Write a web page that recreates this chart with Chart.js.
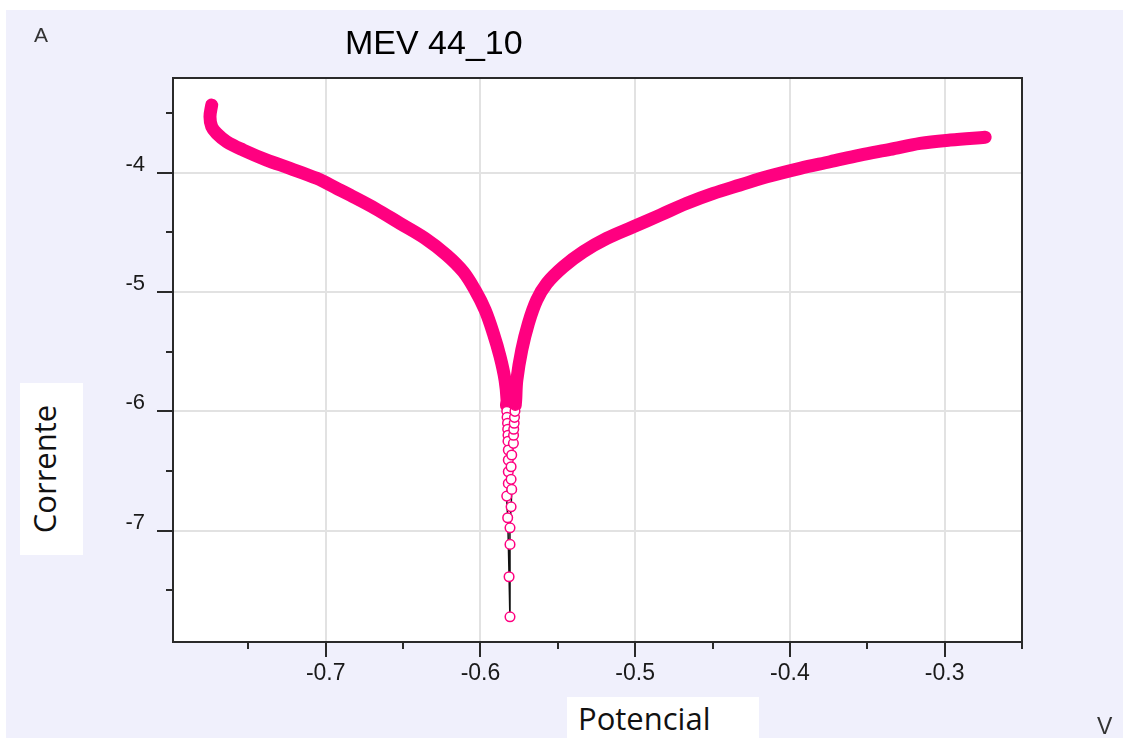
<!DOCTYPE html>
<html>
<head>
<meta charset="utf-8">
<script src="https://cdn.jsdelivr.net/npm/chart.js@4"></script>
<style>
  html, body { margin: 0; padding: 0; background: #fff; }
  #page { position: relative; width: 1123px; height: 738px; overflow: hidden; }
  #bg { position: absolute; left: 6px; top: 10px; right: 0; bottom: 0; background: #f0f0fc; }
  #chart { position: absolute; left: 0; top: 0; }
  .txt { position: absolute; white-space: nowrap; line-height: 1; }
  #title { left: 345px; top: 23px; font: 34px "Liberation Sans", Arial, sans-serif; color: #000; }
  #unitA { left: 34px; top: 23px; font: 21px "Liberation Sans", Arial, sans-serif; color: #333; }
  #unitV { left: 1097px; top: 713px; font: 23px "Liberation Sans", Arial, sans-serif; color: #333; }
  #ybox { position: absolute; left: 20px; top: 383px; width: 63px; height: 172px; background: #fff; }
  #ybox span { position: absolute; left: 50%; top: 50%; white-space: nowrap; line-height: 1;
    font: 31px "Open Sans", sans-serif; color: #111;
    transform: translate(-50%, -50%) rotate(-90deg) translateY(-8px); }
  #xbox { position: absolute; left: 567px; top: 697px; width: 192px; height: 41px; background: #fff; }
  #xbox span { position: absolute; left: 11px; top: 0px; line-height: 1; font: 31px "Open Sans", sans-serif; color: #111; }
</style>
</head>
<body>
<div id="page">
  <div id="bg"></div>
  <canvas id="chart" width="1123" height="738"></canvas>
  <div class="txt" id="title">MEV 44_10</div>
  <div class="txt" id="unitA">A</div>
  <div class="txt" id="unitV">V</div>
  <div id="ybox"><span>Corrente</span></div>
  <div id="xbox"><span>Potencial</span></div>
</div>
<script>
// cathodic branch (potential V, log current A)
const cathodicE = [-0.7737, -0.7748, -0.7737, -0.7705, -0.7640, -0.7533, -0.7381, -0.7231, -0.7058, -0.6929, -0.6843,
  -0.6682, -0.6520, -0.6358, -0.6218, -0.6111, -0.6035, -0.5970, -0.5917, -0.5873, -0.5841, -0.5828];
const cathodicLogI = [-3.433, -3.531, -3.614, -3.670, -3.740, -3.810, -3.894, -3.963, -4.047, -4.131, -4.187,
  -4.298, -4.424, -4.550, -4.690, -4.830, -4.983, -5.151, -5.346, -5.542, -5.737, -5.905];

// points around the corrosion potential
const tailE = [-0.5832, -0.5830, -0.5828, -0.5825, -0.5824, -0.5822, -0.5822, -0.5820, -0.5820, -0.5820, -0.5820,
  -0.5830, -0.5824, -0.5815, -0.5809,
  -0.5809, -0.5809, -0.5802, -0.5798, -0.5802, -0.5802, -0.5798, -0.5787, -0.5786, -0.5785, -0.5782, -0.5780, -0.5777, -0.5775, -0.5772];
const tailLogI = [-5.95, -6.00, -6.05, -6.10, -6.15, -6.20, -6.25, -6.324, -6.408, -6.506, -6.604,
  -6.710, -6.892, -7.386, -7.722,
  -7.115, -6.976, -6.800, -6.654, -6.570, -6.464, -6.366, -6.268, -6.20, -6.15, -6.10, -6.05, -6.00, -5.95, -5.90];

// anodic branch
const anodicE = [-0.5765, -0.5733, -0.5690, -0.5636, -0.5571, -0.5464, -0.5335, -0.5184, -0.5012, -0.4839, -0.4666,
  -0.4495, -0.4322, -0.4149, -0.3934, -0.3740, -0.3546, -0.3352, -0.3158, -0.2964, -0.2738];
const anodicLogI = [-5.738, -5.486, -5.262, -5.067, -4.927, -4.788, -4.662, -4.550, -4.453, -4.355, -4.256,
  -4.173, -4.103, -4.034, -3.963, -3.908, -3.852, -3.804, -3.754, -3.726, -3.703];

const xTicks = [-0.75, -0.7, -0.65, -0.6, -0.55, -0.5, -0.45, -0.4, -0.35, -0.3, -0.25];
const yTicks = [-7.5, -7, -6.5, -6, -5.5, -5, -4.5, -4, -3.5];

const pink = 'rgb(255, 0, 128)';
const sparseBelow = -5.98;

const allE = cathodicE.concat(tailE, anodicE);
const allI = cathodicLogI.concat(tailLogI, anodicLogI);
const points = allE.map((e, i) => ({ x: e, y: allI[i] }));

const isMajorX = v => Math.abs(v * 10 - Math.round(v * 10)) < 1e-6;
const isMajorY = v => Math.abs(v - Math.round(v)) < 1e-6;
const inTail = c => c.p0.parsed.y < sparseBelow || c.p1.parsed.y < sparseBelow;

const frame = {
  id: 'frame',
  beforeDraw(chart) {
    const { ctx, chartArea: a } = chart;
    ctx.save();
    ctx.fillStyle = '#fff';
    ctx.fillRect(a.left, a.top, a.right - a.left, a.bottom - a.top);
    ctx.restore();
  },
  afterDraw(chart) {
    const { ctx, chartArea: a, scales } = chart;
    ctx.save();
    ctx.strokeStyle = '#2a2a2a';
    ctx.lineWidth = 2;
    ctx.strokeRect(a.left, a.top, a.right - a.left, a.bottom - a.top);
    ctx.beginPath();
    scales.x.ticks.forEach(t => {
      const px = Math.round(scales.x.getPixelForValue(t.value));
      const len = isMajorX(t.value) ? 15 : 7;
      ctx.moveTo(px, a.bottom);
      ctx.lineTo(px, a.bottom + len);
    });
    scales.y.ticks.forEach(t => {
      const py = Math.round(scales.y.getPixelForValue(t.value));
      const len = isMajorY(t.value) ? 16 : 7;
      ctx.moveTo(a.left, py);
      ctx.lineTo(a.left - len, py);
    });
    ctx.stroke();
    ctx.restore();
  }
};

new Chart(document.getElementById('chart'), {
  type: 'scatter',
  data: {
    datasets: [{
      data: points,
      showLine: true,
      tension: 0.35,
      borderColor: pink,
      borderWidth: 13,
      borderCapStyle: 'round',
      borderJoinStyle: 'round',
      segment: {
        borderColor: c => inTail(c) ? '#111' : pink,
        borderWidth: c => inTail(c) ? 1.5 : 13
      },
      pointRadius: 4.8,
      pointBorderWidth: 1.5,
      pointBorderColor: pink,
      pointBackgroundColor: c => (c.parsed && c.parsed.y < sparseBelow) ? '#fff' : pink
    }]
  },
  options: {
    responsive: false,
    devicePixelRatio: 1,
    animation: false,
    layout: { padding: { left: 73, top: 78, right: 101, bottom: 46 } },
    plugins: { legend: { display: false }, tooltip: { enabled: false }, title: { display: false } },
    scales: {
      x: {
        type: 'linear',
        min: -0.7987,
        max: -0.25,
        afterFit: s => { s.height = 50; },
        afterBuildTicks: s => { s.ticks = xTicks.map(v => ({ value: v })); },
        border: { display: false },
        grid: {
          drawTicks: false,
          lineWidth: 2,
          color: c => (c.tick && isMajorX(c.tick.value)) ? '#e2e2e2' : 'rgba(0,0,0,0)'
        },
        ticks: {
          padding: 18,
          autoSkip: false,
          maxRotation: 0,
          color: '#1a1a1a',
          font: { family: 'Liberation Sans', size: 23 },
          callback: v => isMajorX(v) ? v.toFixed(1) : ''
        }
      },
      y: {
        type: 'linear',
        min: -7.933,
        max: -3.206,
        afterFit: s => { s.width = 100; },
        afterBuildTicks: s => { s.ticks = yTicks.map(v => ({ value: v })); },
        border: { display: false },
        grid: {
          drawTicks: false,
          lineWidth: 2,
          color: c => (c.tick && isMajorY(c.tick.value)) ? '#e2e2e2' : 'rgba(0,0,0,0)'
        },
        ticks: {
          padding: 28,
          labelOffset: -8,
          autoSkip: false,
          color: '#1a1a1a',
          font: { family: 'Liberation Sans', size: 22 },
          callback: v => isMajorY(v) ? String(Math.round(v)) : ''
        }
      }
    }
  },
  plugins: [frame]
});
</script>
</body>
</html>
